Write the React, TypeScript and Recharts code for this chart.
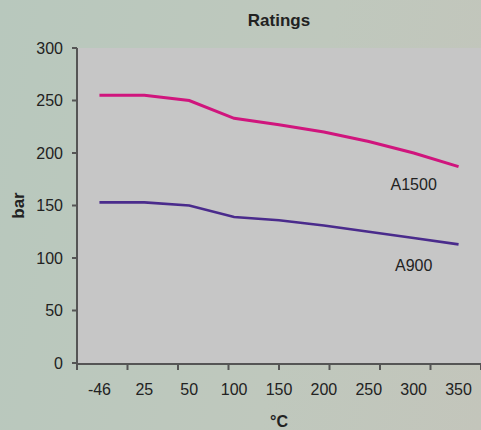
import { LineChart, Line, XAxis, YAxis, CartesianGrid, ReferenceDot } from 'recharts';

const temperatures = ['-46', '25', '50', '100', '150', '200', '250', '300', '350'];
const a1500 = [255, 255, 250, 233, 227, 220, 211, 200, 187];
const a900 = [153, 153, 150, 139, 136, 131, 125, 119, 113];
const yTicks = [0, 50, 100, 150, 200, 250, 300];
const edgeTicks = [0, 1, 2, 3, 4, 5, 6, 7, 8, 9];

const data = temperatures.map((t, i) => ({ t, a1500: a1500[i], a900: a900[i] }));

const FONT = '"Liberation Sans", Arial, sans-serif';
const tickStyle = { fill: '#222', fontSize: 16, fontFamily: FONT };
// half of one category band (404px plot / 9 categories)
const HALF_BAND = 404 / 18;

export default function App() {
    return (
        <div
            style={{
                position: 'absolute',
                left: 0,
                top: 0,
                width: 481,
                height: 430,
                background: 'linear-gradient(100deg, #b8c8bd 0%, #bfc8bd 60%, #c3c5bb 100%)',
                fontFamily: FONT,
            }}
        >
            <div
                style={{
                    position: 'absolute',
                    left: 77,
                    width: 404,
                    top: 11,
                    textAlign: 'center',
                    fontWeight: 'bold',
                    fontSize: 17,
                    color: '#222',
                }}
            >
                Ratings
            </div>
            <LineChart width={481} height={430} data={data} margin={{ top: 48, right: 0, bottom: 0, left: 0 }}>
                <CartesianGrid horizontal={false} vertical={false} fill="#c6c6c6" />
                <XAxis
                    xAxisId="cat"
                    dataKey="t"
                    type="category"
                    height={1}
                    padding={{ left: HALF_BAND, right: HALF_BAND }}
                    axisLine={false}
                    tickLine={false}
                    tickSize={0}
                    tickMargin={21}
                    tick={tickStyle}
                    interval={0}
                />
                {/* boundary tick marks between categories, Excel style */}
                <XAxis
                    xAxisId="edges"
                    type="number"
                    domain={[0, 9]}
                    ticks={edgeTicks}
                    interval={0}
                    allowDataOverflow
                    height={66}
                    tick={() => null}
                    tickLine={{ stroke: '#555', strokeWidth: 2 }}
                    tickSize={6}
                    stroke="#555"
                    strokeWidth={2}
                    label={{
                        value: '°C',
                        position: 'insideBottom',
                        offset: 3,
                        style: { fill: '#222', fontSize: 16, fontWeight: 'bold', fontFamily: FONT },
                    }}
                />
                <YAxis
                    width={77}
                    domain={[0, 300]}
                    ticks={yTicks}
                    tickSize={5}
                    tickMargin={9}
                    tick={tickStyle}
                    stroke="#555"
                    strokeWidth={2}
                    label={{
                        value: 'bar',
                        angle: -90,
                        position: 'insideLeft',
                        offset: 18,
                        style: { fill: '#222', fontSize: 17, fontWeight: 'bold', fontFamily: FONT, textAnchor: 'middle' },
                    }}
                />
                <Line
                    xAxisId="cat"
                    type="linear"
                    dataKey="a1500"
                    stroke="#d0157d"
                    strokeWidth={3}
                    dot={false}
                    isAnimationActive={false}
                />
                <Line
                    xAxisId="cat"
                    type="linear"
                    dataKey="a900"
                    stroke="#4a2b8c"
                    strokeWidth={2.6}
                    dot={false}
                    isAnimationActive={false}
                />
                <ReferenceDot
                    xAxisId="cat"
                    x="300"
                    y={170}
                    r={0}
                    fill="none"
                    stroke="none"
                    label={{ value: 'A1500', position: 'center', style: { fill: '#222', fontSize: 16, fontFamily: FONT } }}
                />
                <ReferenceDot
                    xAxisId="cat"
                    x="300"
                    y={93}
                    r={0}
                    fill="none"
                    stroke="none"
                    label={{ value: 'A900', position: 'center', style: { fill: '#222', fontSize: 16, fontFamily: FONT } }}
                />
            </LineChart>
        </div>
    );
}
